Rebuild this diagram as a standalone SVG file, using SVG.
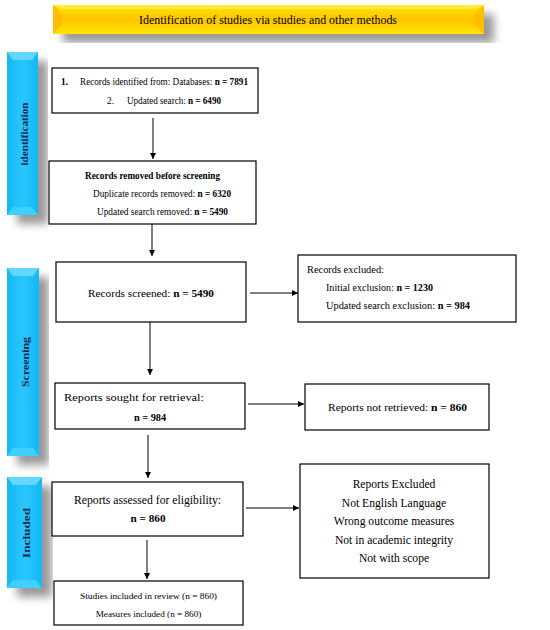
<svg xmlns="http://www.w3.org/2000/svg" width="550" height="630" viewBox="0 0 550 630">
<defs>
<filter id="sh" x="-30%" y="-30%" width="160%" height="160%">
<feGaussianBlur in="SourceAlpha" stdDeviation="4.5"/>
<feOffset dx="10" dy="9" result="b"/>
<feComponentTransfer><feFuncA type="linear" slope="0.4"/></feComponentTransfer>
<feMerge><feMergeNode/><feMergeNode in="SourceGraphic"/></feMerge>
</filter>
<linearGradient id="gold" x1="0" y1="0" x2="0" y2="1">
<stop offset="0" stop-color="#ffe600"/>
<stop offset="0.5" stop-color="#ffc400"/>
<stop offset="1" stop-color="#ffe600"/>
</linearGradient>
<linearGradient id="cyan" x1="0" y1="0" x2="1" y2="0">
<stop offset="0" stop-color="#12b8f2"/>
<stop offset="0.5" stop-color="#2cc6ff"/>
<stop offset="1" stop-color="#12b8f2"/>
</linearGradient>
<marker id="ah" viewBox="0 0 10 10" refX="10" refY="5" markerWidth="6" markerHeight="6" markerUnits="userSpaceOnUse" orient="auto">
<path d="M0,0 L10,5 L0,10 z" fill="#000"/>
</marker>
</defs>
<style>
.box{fill:#fff;stroke:#000;stroke-width:1.2}
.t{font-family:"Liberation Serif","Times New Roman",serif;fill:#000}
.s{font-size:9.3px}
.b{font-weight:bold}
.side{font-family:"Liberation Serif","Times New Roman",serif;font-weight:bold;font-size:10.5px;fill:#16284f}
.conn line{stroke:#000;stroke-width:1;marker-end:url(#ah)}
</style>

<g id="title">
<g filter="url(#sh)">
<rect x="53" y="5" width="431" height="29" fill="url(#gold)"/>
</g>
<polygon points="53,5 62,14 62,25 53,34" fill="#ffb800" opacity="0.8"/>
<polygon points="484,5 475,14 475,25 484,34" fill="#ffb800" opacity="0.8"/>
<polygon points="53,5 484,5 475,9 62,9" fill="#fff25a" opacity="0.7"/>
<text class="t" x="268" y="23.5" font-size="11.6" text-anchor="middle" textLength="258" lengthAdjust="spacingAndGlyphs">Identification of studies via studies and other methods</text>
</g>

<g id="side-identification">
<g filter="url(#sh)"><rect x="7" y="52" width="31" height="163" fill="url(#cyan)"/></g>
<polygon points="7,52 38,52 32,60 13,60" fill="#62d8ff"/>
<polygon points="7,215 38,215 32,207 13,207" fill="#3fd0ff"/>
<text class="side" transform="translate(28,134) rotate(-90)" text-anchor="middle" textLength="63" lengthAdjust="spacingAndGlyphs">identification</text>
</g>

<g id="side-screening">
<g filter="url(#sh)"><rect x="7" y="268" width="32" height="188" fill="url(#cyan)"/></g>
<polygon points="7,268 39,268 33,276 13,276" fill="#62d8ff"/>
<polygon points="7,456 39,456 33,448 13,448" fill="#3fd0ff"/>
<text class="side" transform="translate(29,362) rotate(-90)" text-anchor="middle" font-size="11.5" textLength="50" lengthAdjust="spacingAndGlyphs">Screening</text>
</g>

<g id="side-included">
<g filter="url(#sh)"><rect x="7" y="477" width="35" height="111" fill="url(#cyan)"/></g>
<polygon points="7,477 42,477 36,485 13,485" fill="#62d8ff"/>
<polygon points="7,588 42,588 36,580 13,580" fill="#3fd0ff"/>
<text class="side" transform="translate(29.5,533) rotate(-90)" text-anchor="middle" font-size="12" textLength="50" lengthAdjust="spacingAndGlyphs">Included</text>
</g>

<g id="n1">
<rect class="box" x="52" y="68" width="206" height="45"/>
<text class="t s b" x="61" y="85">1.</text>
<text class="t s" x="80" y="85" textLength="168" lengthAdjust="spacingAndGlyphs">Records identified from: Databases: <tspan class="b">n = 7891</tspan></text>
<text class="t s" x="107" y="104">2.</text>
<text class="t s" x="127" y="104" textLength="94" lengthAdjust="spacingAndGlyphs">Updated search: <tspan class="b">n = 6490</tspan></text>
</g>

<g id="n2">
<rect class="box" x="49" y="161" width="207" height="63"/>
<text class="t s b" x="85" y="179" textLength="135" lengthAdjust="spacingAndGlyphs">Records removed before screening</text>
<text class="t s" x="93" y="197" textLength="138" lengthAdjust="spacingAndGlyphs">Duplicate records removed: <tspan class="b">n = 6320</tspan></text>
<text class="t s" x="97" y="215" textLength="131" lengthAdjust="spacingAndGlyphs">Updated search removed: <tspan class="b">n = 5490</tspan></text>
</g>

<g id="n3">
<rect class="box" x="56" y="262" width="190" height="60"/>
<text class="t" x="88" y="297" font-size="11.3" textLength="126" lengthAdjust="spacingAndGlyphs">Records screened: <tspan class="b">n = 5490</tspan></text>
</g>

<g id="n4">
<rect class="box" x="298" y="255" width="218" height="67"/>
<text class="t" x="307" y="273" font-size="10.4" textLength="77" lengthAdjust="spacingAndGlyphs">Records excluded:</text>
<text class="t" x="326" y="291" font-size="10.4" textLength="107" lengthAdjust="spacingAndGlyphs">Initial exclusion: <tspan class="b">n = 1230</tspan></text>
<text class="t" x="326" y="309" font-size="10.4" textLength="144" lengthAdjust="spacingAndGlyphs">Updated search exclusion: <tspan class="b">n = 984</tspan></text>
</g>

<g id="n5">
<rect class="box" x="55" y="383" width="190" height="46"/>
<text class="t" x="64" y="401" font-size="11.2" textLength="140" lengthAdjust="spacingAndGlyphs">Reports sought for retrieval:</text>
<text class="t b" x="150" y="421" font-size="10.3" text-anchor="middle">n = 984</text>
</g>

<g id="n6">
<rect class="box" x="305" y="384" width="184" height="46"/>
<text class="t" x="397.5" y="411" font-size="11.3" text-anchor="middle" textLength="139" lengthAdjust="spacingAndGlyphs">Reports not retrieved: <tspan class="b">n = 860</tspan></text>
</g>

<g id="n7">
<rect class="box" x="52" y="482" width="191" height="54"/>
<text class="t" x="147.5" y="504" font-size="11.6" text-anchor="middle" textLength="147" lengthAdjust="spacingAndGlyphs">Reports assessed for eligibility:</text>
<text class="t b" x="148" y="522" font-size="11.2" text-anchor="middle">n = 860</text>
</g>

<g id="n8">
<rect class="box" x="300" y="464" width="189" height="114"/>
<text class="t" x="394" y="488" font-size="11.6" text-anchor="middle">Reports Excluded</text>
<text class="t" x="394" y="507" font-size="11.6" text-anchor="middle">Not English Language</text>
<text class="t" x="394" y="525" font-size="11.6" text-anchor="middle">Wrong outcome measures</text>
<text class="t" x="394" y="544" font-size="11.6" text-anchor="middle">Not in academic integrity</text>
<text class="t" x="394" y="562" font-size="11.6" text-anchor="middle">Not with scope</text>
</g>

<g id="n9">
<rect class="box" x="54" y="581" width="189" height="44"/>
<text class="t" x="148.5" y="599" font-size="9.2" text-anchor="middle" textLength="137" lengthAdjust="spacingAndGlyphs">Studies included in review (n = 860)</text>
<text class="t" x="148.5" y="617" font-size="9.2" text-anchor="middle">Measures included (n = 860)</text>
</g>

<g id="connectors" class="conn">
<line x1="153" y1="118" x2="153" y2="159"/>
<line x1="152" y1="224" x2="152" y2="256"/>
<line x1="250" y1="293" x2="298" y2="293"/>
<line x1="150" y1="322" x2="150" y2="375"/>
<line x1="248" y1="404" x2="304" y2="404"/>
<line x1="148" y1="435" x2="148" y2="478"/>
<line x1="246" y1="508" x2="299" y2="508"/>
<line x1="147" y1="540" x2="147" y2="579"/>
</g>
</svg>
